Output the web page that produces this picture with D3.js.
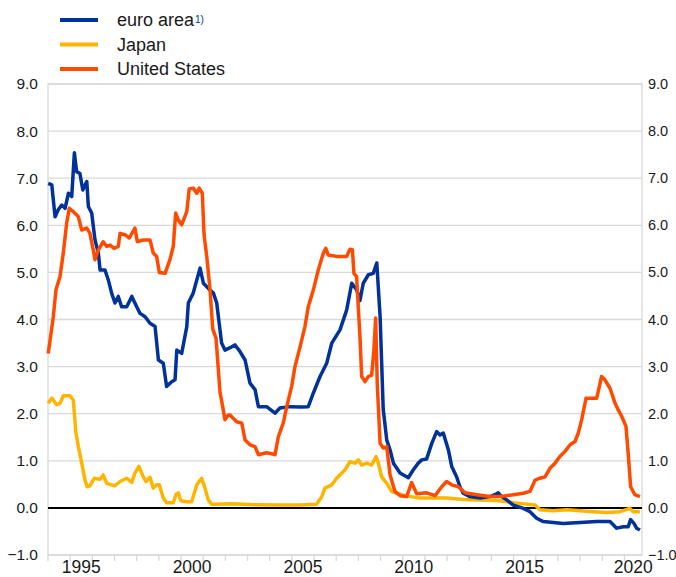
<!DOCTYPE html>
<html><head><meta charset="utf-8">
<script src="https://cdn.jsdelivr.net/npm/d3@7/dist/d3.min.js"></script>
<style>body{margin:0;background:#fff;}svg{display:block;font-family:"Liberation Sans",Arial,sans-serif;}</style>
</head><body><svg id="c" width="676" height="577"></svg>
<script>
// decimal years and values
const euroT = [1994.01,1994.17,1994.32,1994.46,1994.62,1994.77,1994.92,1995.07,1995.19,1995.29,1995.44,1995.57,1995.75,1995.82,1995.97,1996.12,1996.27,1996.35,1996.57,1996.72,1996.87,1997.02,1997.17,1997.32,1997.55,1997.78,1998.00,1998.15,1998.38,1998.60,1998.83,1998.98,1999.20,1999.35,1999.58,1999.73,1999.81,2000.03,2000.26,2000.33,2000.55,2000.71,2000.86,2001.01,2001.23,2001.46,2001.61,2001.83,2001.98,2002.29,2002.43,2002.66,2002.89,2003.11,2003.34,2003.49,2003.86,2004.24,2004.46,2004.92,2005.44,2005.74,2005.97,2006.27,2006.57,2006.80,2007.17,2007.47,2007.70,2007.92,2008.07,2008.22,2008.45,2008.67,2008.83,2008.98,2009.12,2009.28,2009.43,2009.58,2009.88,2010.25,2010.48,2010.70,2010.86,2011.08,2011.31,2011.53,2011.68,2011.83,2012.06,2012.21,2012.43,2012.58,2012.73,2013.03,2013.49,2013.94,2014.16,2014.31,2014.46,2014.69,2014.99,2015.44,2015.74,2016.04,2016.34,2016.79,2017.24,2018.00,2018.75,2019.35,2019.65,2019.95,2020.17,2020.28,2020.43,2020.55,2020.70];
const euroV = [6.89,6.86,6.18,6.33,6.43,6.36,6.68,6.61,7.54,7.14,7.10,6.75,6.93,6.40,6.26,5.69,5.41,5.05,5.05,4.84,4.56,4.35,4.49,4.27,4.27,4.49,4.27,4.13,4.06,3.92,3.85,3.14,3.07,2.58,2.68,2.72,3.35,3.28,3.85,4.35,4.56,4.84,5.09,4.77,4.66,4.56,4.35,3.50,3.35,3.42,3.46,3.32,3.14,2.65,2.51,2.15,2.15,2.01,2.12,2.15,2.14,2.15,2.44,2.79,3.07,3.50,3.78,4.20,4.77,4.63,4.40,4.77,4.95,4.98,5.20,4.06,2.10,1.44,1.23,0.95,0.74,0.64,0.81,0.95,1.02,1.04,1.37,1.62,1.55,1.59,1.23,0.88,0.66,0.45,0.31,0.24,0.21,0.24,0.28,0.32,0.24,0.17,0.06,-0.01,-0.08,-0.22,-0.29,-0.31,-0.33,-0.31,-0.29,-0.29,-0.43,-0.40,-0.40,-0.25,-0.33,-0.43,-0.47];

const japanT = [1994.01,1994.17,1994.39,1994.54,1994.69,1994.99,1995.14,1995.26,1995.37,1995.52,1995.67,1995.77,1995.89,1996.09,1996.35,1996.49,1996.65,1996.87,1997.02,1997.25,1997.55,1997.78,1997.92,1998.10,1998.30,1998.42,1998.60,1998.75,1998.90,1999.02,1999.20,1999.35,1999.65,1999.77,1999.88,1999.99,2000.26,2000.48,2000.71,2000.93,2001.08,2001.23,2001.38,2001.61,2002.21,2003.11,2004.46,2005.37,2006.12,2006.35,2006.49,2006.80,2007.02,2007.25,2007.40,2007.62,2007.85,2008.00,2008.15,2008.37,2008.60,2008.80,2008.90,2009.05,2009.28,2009.50,2009.73,2010.18,2010.78,2011.98,2012.73,2013.49,2014.39,2014.99,2015.59,2015.97,2016.19,2016.79,2017.40,2018.00,2018.60,2019.20,2019.80,2020.25,2020.40,2020.70];
const japanV = [2.22,2.33,2.19,2.22,2.38,2.38,2.29,1.59,1.30,0.95,0.59,0.45,0.47,0.63,0.61,0.70,0.52,0.49,0.47,0.56,0.63,0.54,0.74,0.88,0.66,0.56,0.65,0.42,0.49,0.49,0.21,0.11,0.11,0.28,0.32,0.15,0.13,0.13,0.49,0.63,0.42,0.17,0.08,0.08,0.09,0.07,0.06,0.06,0.08,0.24,0.42,0.49,0.63,0.74,0.81,0.98,0.95,1.02,0.91,0.95,0.91,1.09,0.95,0.66,0.52,0.35,0.31,0.25,0.21,0.21,0.18,0.17,0.15,0.11,0.08,0.06,-0.04,-0.06,-0.04,-0.06,-0.08,-0.10,-0.08,-0.01,-0.08,-0.08];

const usT = [1994.01,1994.24,1994.36,1994.54,1994.69,1994.84,1994.96,1995.14,1995.37,1995.52,1995.75,1995.89,1996.04,1996.12,1996.27,1996.49,1996.65,1996.80,1996.98,1997.17,1997.25,1997.47,1997.67,1997.92,1998.03,1998.30,1998.60,1998.75,1998.90,1999.02,1999.28,1999.50,1999.65,1999.76,1999.88,2000.03,2000.26,2000.37,2000.55,2000.71,2000.82,2000.96,2001.04,2001.16,2001.31,2001.43,2001.58,2001.76,2001.88,2001.98,2002.13,2002.21,2002.51,2002.74,2002.89,2003.11,2003.34,2003.49,2003.86,2004.09,2004.24,2004.39,2004.61,2004.77,2004.99,2005.14,2005.37,2005.59,2005.74,2005.97,2006.19,2006.42,2006.53,2006.64,2007.02,2007.47,2007.62,2007.73,2007.80,2007.92,2008.07,2008.15,2008.30,2008.45,2008.60,2008.70,2008.78,2008.85,2008.98,2009.12,2009.28,2009.43,2009.65,2009.88,2010.18,2010.40,2010.63,2011.08,2011.46,2011.76,2011.98,2012.21,2012.51,2012.81,2013.34,2013.94,2014.39,2014.99,2015.44,2015.74,2015.97,2016.19,2016.42,2016.64,2016.87,2017.09,2017.32,2017.55,2017.77,2017.92,2018.07,2018.27,2018.52,2018.75,2018.97,2019.12,2019.35,2019.58,2019.72,2019.88,2020.07,2020.17,2020.28,2020.47,2020.70];
const usV = [3.28,4.06,4.63,4.91,5.41,6.04,6.36,6.29,6.18,5.90,5.94,5.83,5.48,5.27,5.48,5.65,5.55,5.58,5.51,5.55,5.83,5.80,5.73,5.94,5.65,5.69,5.69,5.41,5.34,5.00,4.98,5.27,5.55,6.26,6.11,6.01,6.29,6.77,6.79,6.68,6.79,6.68,5.80,5.34,4.63,3.80,3.60,2.45,2.15,1.87,1.97,1.97,1.83,1.80,1.44,1.34,1.30,1.13,1.17,1.15,1.13,1.51,1.80,2.15,2.58,3.00,3.42,3.85,4.27,4.63,5.05,5.41,5.51,5.37,5.34,5.34,5.49,5.48,4.98,4.91,3.64,2.79,2.68,2.79,2.82,3.35,4.03,2.65,1.37,1.27,1.30,0.70,0.35,0.26,0.24,0.54,0.30,0.32,0.26,0.45,0.56,0.49,0.45,0.32,0.28,0.24,0.24,0.28,0.31,0.35,0.59,0.63,0.66,0.84,0.95,1.09,1.20,1.34,1.41,1.59,1.87,2.33,2.33,2.33,2.79,2.72,2.54,2.22,2.08,1.94,1.73,1.16,0.45,0.28,0.24];

const seriesNames = ["euro area", "Japan", "United States"];
const seriesColors = ["#003299", "#FFB400", "#FF4B00"];
const yTicks = [-1,0,1,2,3,4,5,6,7,8,9];
const xLabelYears = [1995,2000,2005,2010,2015,2020];
const xTickYears = d3.range(1994, 2021);

const L = 48, R = 642, T = 84, B = 555;
const tEnd = 1994 + (R - L) / 22.17;
const x = d3.scaleLinear().domain([1994, tEnd]).range([L, R]);
const y = d3.scaleLinear().domain([-1, 9]).range([B, T]);
const svg = d3.select("#c");

// gridlines
svg.append("g").selectAll("line").data(yTicks).join("line")
  .attr("x1", L).attr("x2", R).attr("y1", d => y(d)).attr("y2", d => y(d))
  .attr("stroke", "#d9d9d9").attr("stroke-width", 1.3);
// frame
svg.append("rect").attr("x", L).attr("y", T).attr("width", R - L).attr("height", B - T)
  .attr("fill", "none").attr("stroke", "#d9d9d9").attr("stroke-width", 1.3);

// x ticks
svg.append("g").selectAll("line").data(xTickYears).join("line")
  .attr("x1", d => x(d)).attr("x2", d => x(d)).attr("y1", B).attr("y2", B + 6)
  .attr("stroke", "#d9d9d9").attr("stroke-width", 1.3);

// y labels left & right
const fmt = d3.format(".1f");
svg.append("g").selectAll("text").data(yTicks).join("text")
  .attr("x", 38).attr("y", d => y(d)).attr("dy", "0.35em").attr("text-anchor", "end")
  .attr("font-size", 15.5).attr("fill", "#1a1a1a").text(d => fmt(d));
svg.append("g").selectAll("text").data(yTicks).join("text")
  .attr("x", 648).attr("y", d => y(d)).attr("dy", "0.35em").attr("text-anchor", "start")
  .attr("font-size", 14.5).attr("fill", "#1a1a1a").text(d => fmt(d));

// x labels
svg.append("g").selectAll("text").data(xLabelYears).join("text")
  .attr("x", d => (x(d) + Math.min(x(d + 1), R)) / 2).attr("y", 572.5)
  .attr("text-anchor", "middle").attr("font-size", 17.5).attr("fill", "#1a1a1a").text(d => d);

// zero line
svg.append("line").attr("x1", L).attr("x2", R).attr("y1", y(0)).attr("y2", y(0))
  .attr("stroke", "#000").attr("stroke-width", 2);

const line = d3.line().x(d => x(d[0])).y(d => y(d[1]));
const data = [
  d3.zip(japanT, japanV),
  d3.zip(euroT, euroV),
  d3.zip(usT, usV)
];
const order = [1, 0, 2];
svg.append("g").selectAll("path").data(data).join("path")
  .attr("d", line).attr("fill", "none")
  .attr("stroke", (d, i) => seriesColors[order[i]]).attr("stroke-width", 3.5)
  .attr("stroke-linejoin", "round");

// legend
const lg = svg.append("g");
seriesNames.forEach((n, i) => {
  const yy = 20 + i * 24.5;
  lg.append("line").attr("x1", 60).attr("x2", 98).attr("y1", yy).attr("y2", yy)
    .attr("stroke", seriesColors[i]).attr("stroke-width", 4);
  const t = lg.append("text").attr("x", 117).attr("y", yy).attr("dy", "0.35em")
    .attr("font-size", 18).attr("fill", "#1a1a1a").text(n);
  if (i === 0) {
    t.append("tspan").attr("font-size", 10).attr("fill", "#003299").attr("dy", "-0.3em").attr("dx", "1").text("1)");
  }
});
</script></body></html>
